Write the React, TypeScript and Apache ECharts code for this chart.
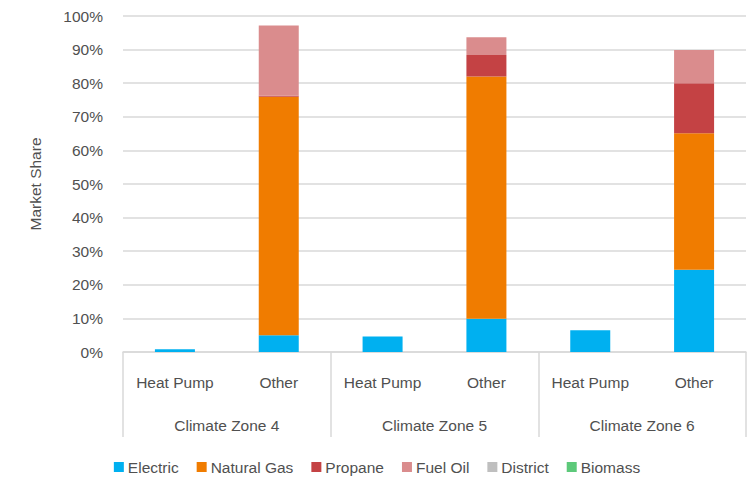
import React, { useEffect, useRef } from "react";
import * as echarts from "echarts";

const categories = ["Heat Pump", "Other", "Heat Pump", "Other", "Heat Pump", "Other"];
const zones = ["Climate Zone 4", "Climate Zone 5", "Climate Zone 6"];
const electric = [0.8, 5.0, 4.6, 9.9, 6.5, 24.5];
const naturalGas = [0, 71.0, 0, 72.1, 0, 40.6];
const propane = [0, 0.3, 0, 6.4, 0, 14.9];
const fuelOil = [0, 20.9, 0, 5.3, 0, 9.9];
const district = [0, 0, 0, 0, 0, 0];
const biomass = [0, 0, 0, 0, 0, 0];

const seriesDefs = [
  { name: "Electric", data: electric, color: "#00B0F0" },
  { name: "Natural Gas", data: naturalGas, color: "#F07C00" },
  { name: "Propane", data: propane, color: "#C44244" },
  { name: "Fuel Oil", data: fuelOil, color: "#DA8C8D" },
  { name: "District", data: district, color: "#BFBFBF" },
  { name: "Biomass", data: biomass, color: "#5DC97A" },
];

const FONT = "'Liberation Sans', sans-serif";
const TXT = "#505050";
const FS = 15.5;

export default function App() {
  const ref = useRef<HTMLDivElement>(null);
  useEffect(() => {
    if (!ref.current) return;
    const chart = echarts.init(ref.current, undefined, { renderer: "svg" });
    chart.setOption({
      animation: false,
      textStyle: { fontFamily: FONT },
      grid: { left: 123, right: 8, top: 16, bottom: 128, containLabel: false },
      legend: {
        bottom: 0,
        left: "center",
        itemWidth: 10,
        itemHeight: 10,
        itemGap: 18,
        icon: "rect",
        textStyle: { fontFamily: FONT, fontSize: FS, color: TXT, padding: [0, 0, 0, -1] },
        data: seriesDefs.map((s) => s.name),
      },
      xAxis: [
        {
          type: "category",
          data: categories,
          position: "bottom",
          axisLine: { show: true, lineStyle: { color: "#D9D9D9", width: 1.5 } },
          axisTick: { show: false },
          axisLabel: { color: TXT, fontSize: FS, fontFamily: FONT, margin: 22, interval: 0 },
        },
        {
          type: "category",
          data: zones,
          position: "bottom",
          axisLine: { show: false },
          axisTick: { show: true, length: 85, lineStyle: { color: "#D9D9D9", width: 1.5 } },
          axisLabel: { color: TXT, fontSize: FS, fontFamily: FONT, margin: 65, interval: 0 },
        },
      ],
      yAxis: {
        type: "value",
        min: 0,
        max: 100,
        interval: 10,
        name: "Market Share",
        nameLocation: "middle",
        nameGap: 80,
        nameRotate: 90,
        nameTextStyle: { color: TXT, fontSize: FS, fontFamily: FONT },
        axisLabel: { formatter: "{value}%", color: TXT, fontSize: FS, fontFamily: FONT, margin: 20 },
        axisLine: { show: false },
        axisTick: { show: false },
        splitLine: { lineStyle: { color: "#D9D9D9", width: 1.5 } },
      },
      series: seriesDefs.map((s) => ({
        name: s.name,
        type: "bar",
        stack: "total",
        xAxisIndex: 0,
        barWidth: 40,
        data: s.data,
        itemStyle: { color: s.color },
      })),
    });
    return () => chart.dispose();
  }, []);
  return (
    <div
      ref={ref}
      style={{ position: "absolute", left: 0, top: 0, width: 754, height: 480 }}
    />
  );
}
